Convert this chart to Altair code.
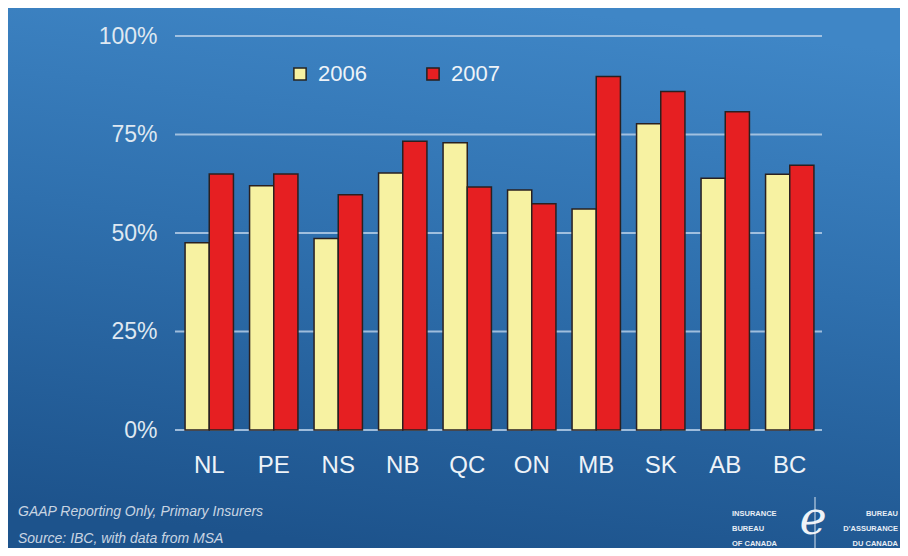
import altair as alt
import pandas as pd

provinces = ["NL", "PE", "NS", "NB", "QC", "ON", "MB", "SK", "AB", "BC"]
values_2006 = [47.5, 62.0, 48.6, 65.2, 72.9, 60.9, 56.1, 77.7, 63.9, 64.9]
values_2007 = [65.0, 65.0, 59.7, 73.3, 61.7, 57.4, 89.7, 85.9, 80.8, 67.2]
series = ["2006", "2007"]
series_colors = ["#f7f2a2", "#e61f22"]
y_ticks = [0, 25, 50, 75, 100]
notes = ["GAAP Reporting Only, Primary Insurers", "Source: IBC, with data from MSA"]
logo_left = ["INSURANCE", "BUREAU", "OF CANADA"]
logo_right = ["BUREAU", "D'ASSURANCE", "DU CANADA"]

rows = []
for p, a, b in zip(provinces, values_2006, values_2007):
    rows.append({"province": p, "year": series[0], "value": a})
    rows.append({"province": p, "year": series[1], "value": b})
df = pd.DataFrame(rows)

W, H = 645, 394
PAD = {"left": 169, "top": 28, "right": 78, "bottom": 118}
FONT = "Liberation Sans"

bg_gradient = alt.LinearGradient(
    gradient="linear",
    stops=[
        alt.GradientStop(color="#3f86c6", offset=0),
        alt.GradientStop(color="#2f70ae", offset=0.45),
        alt.GradientStop(color="#1d538c", offset=1),
    ],
    x1=0.6, x2=0.4, y1=0, y2=1,
)

background = alt.Chart(pd.DataFrame({"a": [0]})).mark_rect(color=bg_gradient).encode(
    x=alt.value(-PAD["left"]),
    x2=alt.value(W + PAD["right"]),
    y=alt.value(-PAD["top"]),
    y2=alt.value(H + PAD["bottom"]),
)

y_scale = alt.Scale(domain=[0, 100], nice=False)
y_axis = alt.Axis(
    title=None, values=y_ticks, labelExpr="datum.value + '%'",
    labelFontSize=23, labelColor="#dfe8f1", labelFont=FONT,
    domain=False, ticks=False, grid=False, labelPadding=20, zindex=1,
)

grid = alt.Chart(pd.DataFrame({"t": y_ticks})).mark_rule(
    color="#b4cde6", strokeWidth=2, opacity=0.85
).encode(
    y=alt.Y("t:Q", scale=y_scale, axis=y_axis),
    x=alt.value(-2),
    x2=alt.value(W),
)

bars = alt.Chart(df).mark_bar(stroke="#2a2020", strokeWidth=1.5).encode(
    x=alt.X(
        "province:N",
        sort=provinces,
        scale=alt.Scale(paddingInner=0.25, paddingOuter=0.125),
        axis=alt.Axis(
            title=None, labelAngle=0, labelFontSize=24, labelColor="#eef3f8",
            labelFont=FONT, domain=False, ticks=False, labelPadding=23, zindex=1,
        ),
    ),
    xOffset=alt.XOffset("year:N", sort=series),
    y=alt.Y("value:Q", scale=y_scale, axis=y_axis),
    color=alt.Color(
        "year:N",
        sort=series,
        scale=alt.Scale(domain=series, range=series_colors),
        legend=alt.Legend(
            title=None, orient="none", direction="horizontal",
            legendX=112, legendY=27, symbolType="square", symbolSize=150,
            symbolStrokeColor="#222222", symbolStrokeWidth=1.5,
            labelFontSize=22, labelColor="#eef3f8", labelFont=FONT,
            labelOffset=7, columnPadding=55, padding=0,
        ),
    ),
)

note_layers = []
for i, note in enumerate(notes):
    note_layers.append(
        alt.Chart(pd.DataFrame({"text": [note]})).mark_text(
            align="left", baseline="alphabetic", fontSize=14, fontStyle="italic",
            font=FONT, color="#c9d5e2",
        ).encode(x=alt.value(-159), y=alt.value(480 + 27 * i), text="text:N")
    )

logo_layers = []
for i, (l, r) in enumerate(zip(logo_left, logo_right)):
    yy = 478 + i * 15
    logo_layers.append(
        alt.Chart(pd.DataFrame({"text": [l]})).mark_text(
            align="left", baseline="middle", fontSize=7.5, fontWeight="bold",
            font=FONT, color="#e8eef5",
        ).encode(x=alt.value(555), y=alt.value(yy), text="text:N")
    )
    logo_layers.append(
        alt.Chart(pd.DataFrame({"text": [r]})).mark_text(
            align="right", baseline="middle", fontSize=7.5, fontWeight="bold",
            font=FONT, color="#e8eef5",
        ).encode(x=alt.value(721), y=alt.value(yy), text="text:N")
    )

logo_rule = alt.Chart(pd.DataFrame({"a": [0]})).mark_rule(
    color="#d8e4f0", strokeWidth=1
).encode(x=alt.value(638), y=alt.value(461), y2=alt.value(517))

logo_e = alt.Chart(pd.DataFrame({"text": ["e"]})).mark_text(
    align="center", baseline="middle", fontSize=46, fontStyle="italic",
    font="DejaVu Serif", color="#eef3f8",
).encode(x=alt.value(636), y=alt.value(484), text="text:N")

chart = alt.layer(
    background, grid, bars, *note_layers, logo_rule, logo_e, *logo_layers
).properties(
    width=W, height=H, padding=PAD,
    autosize=alt.AutoSizeParams(type="none"),
).configure_view(stroke=None).configure(background="#2a65a0")

chart.save("out.html", embed_options={"renderer": "svg", "actions": False})
